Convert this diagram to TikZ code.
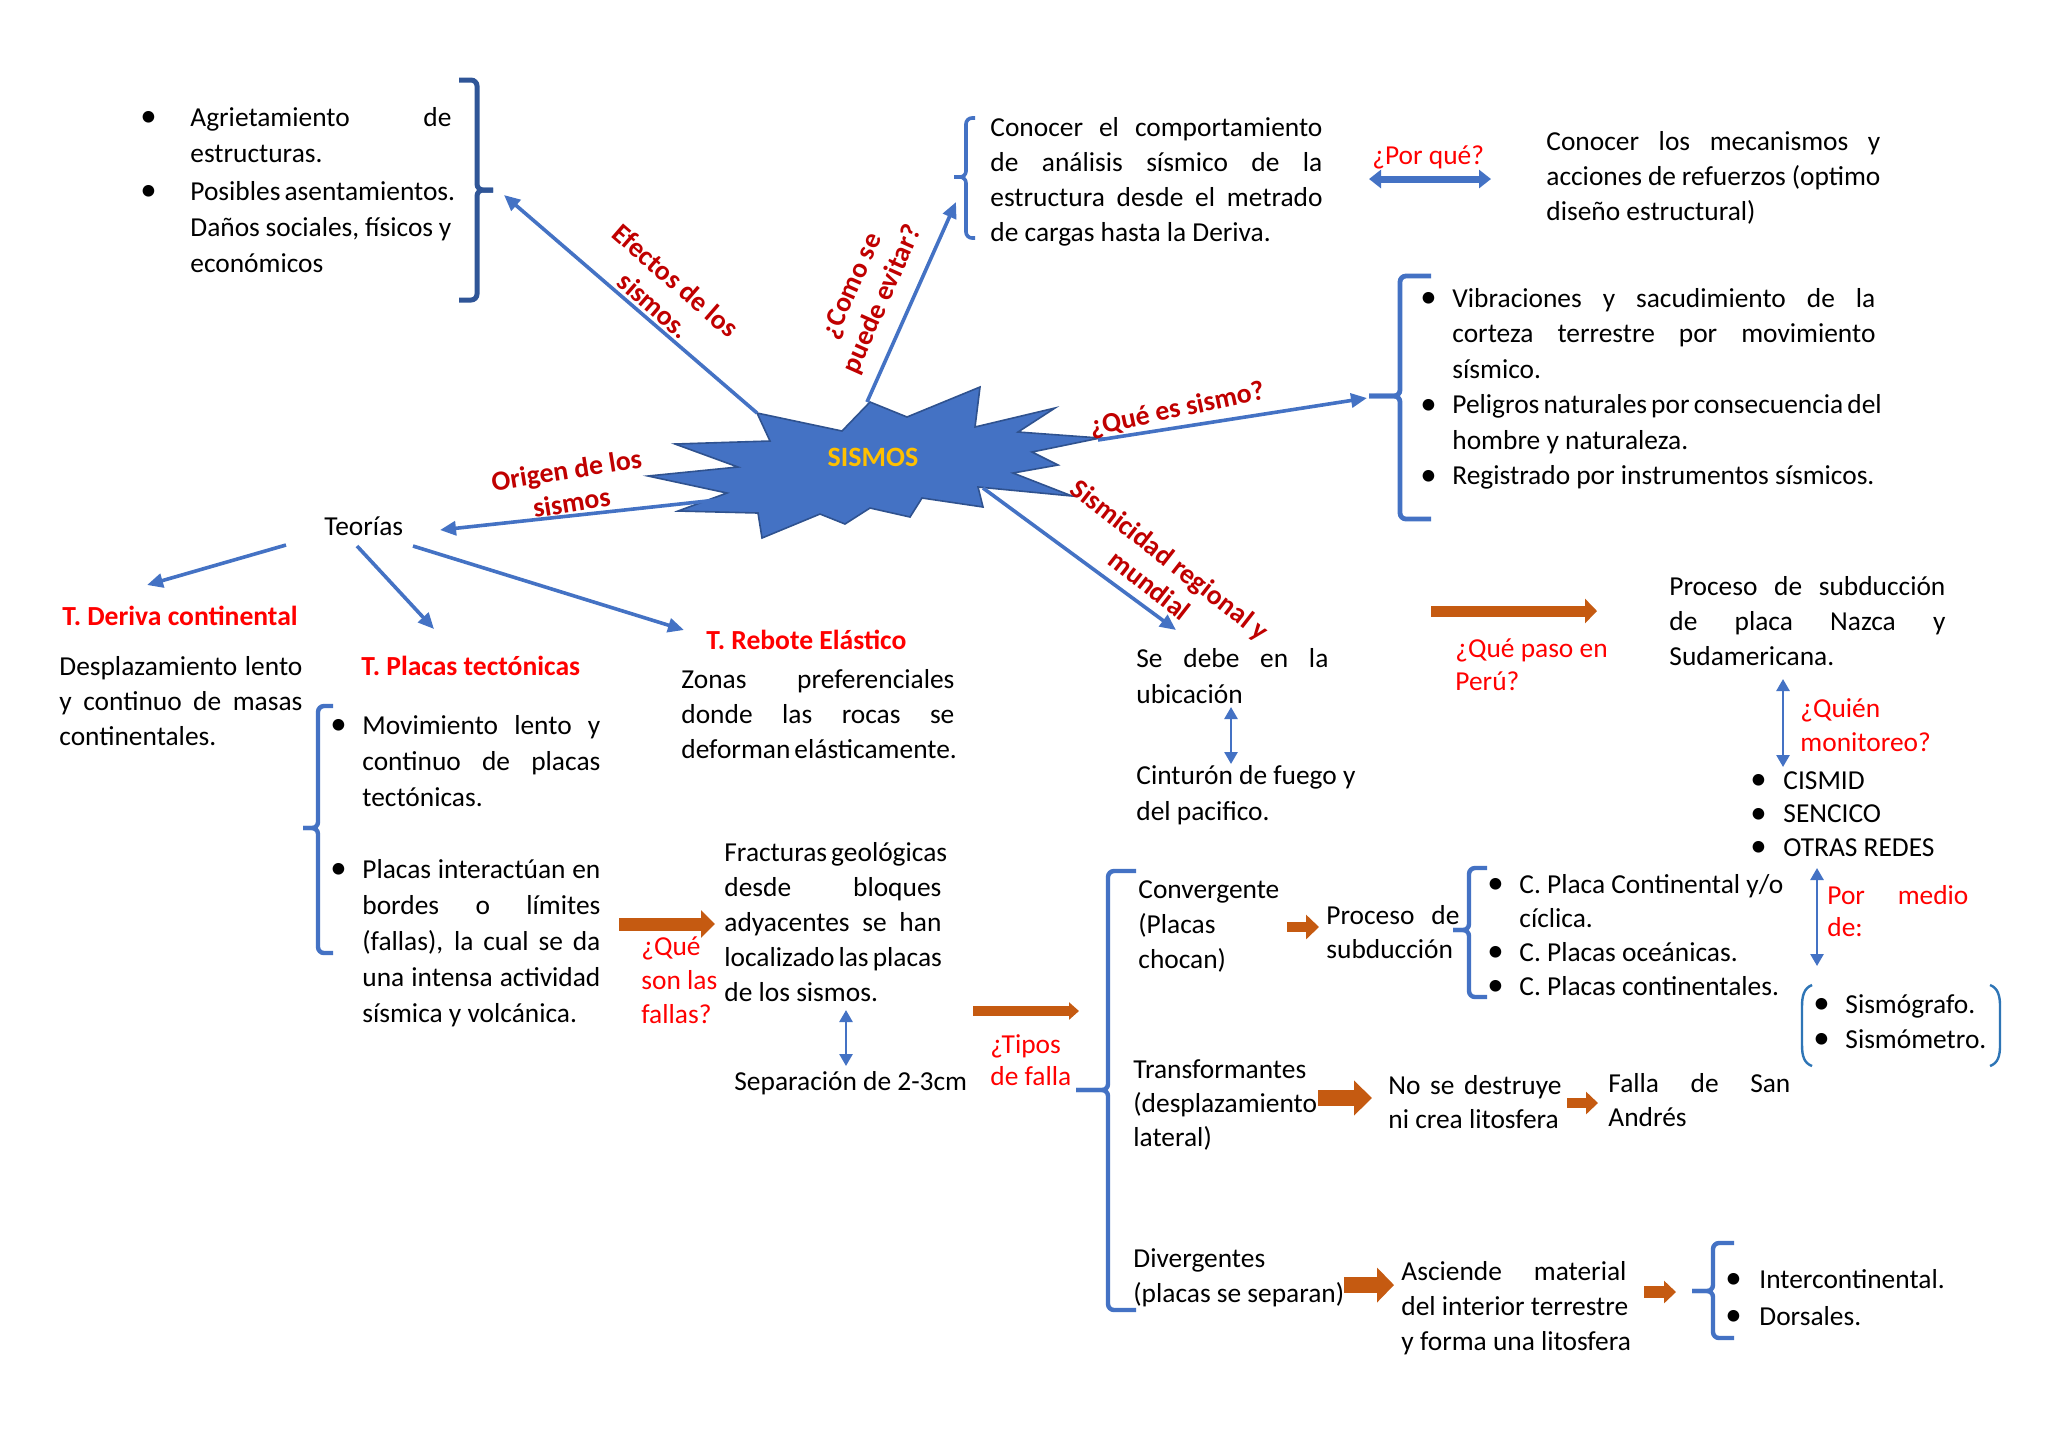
\documentclass[tikz,border=0pt]{standalone}
\usepackage{fontspec}
\setmainfont{Carlito}
\usetikzlibrary{arrows.meta}
\definecolor{bblue}{HTML}{4472C4}
\definecolor{dblue}{HTML}{2F5597}
\definecolor{sedge}{HTML}{2F528F}
\definecolor{pblue}{HTML}{2E75B6}
\definecolor{dred}{HTML}{C00000}
\definecolor{rred}{HTML}{FF0000}
\definecolor{orng}{HTML}{C55A11}
\definecolor{gold}{HTML}{FFC000}
% line helpers
\newcommand\blk[2]{\vtop{\baselineskip=#1\relax\lineskiplimit=-20pt\relax #2}}
\newcommand\jln[2]{\hbox to #1{#2}}
\newcommand\nln[1]{\hbox{#1}}
\newcommand\bul{\hskip-1.5pt\raisebox{-0.3pt}{\scalebox{1.2}{\textbullet}}}
\newcommand\bjl[3]{\hbox{\hbox to #1{\bul\hss}\hbox to #2{#3}}}
\newcommand\bnl[2]{\hbox{\hbox to #1{\bul\hss}#2}}
\newcommand\cjl[3]{\hbox{\hskip #1\relax\hbox to #2{#3}}}
\newcommand\cnl[2]{\hbox{\hskip #1\relax #2}}
\begin{document}
\begin{tikzpicture}[x=0.5pt,y=-0.5pt,
  txt/.style={inner sep=0pt, anchor=base west, font=\fontsize{13.7pt}{17.5pt}\selectfont, text=black},
  redt/.style={txt, text=rred},
  redb/.style={txt, text=rred, font=\fontsize{13.8pt}{17.5pt}\selectfont\bfseries},
  lbl/.style={inner sep=0pt, align=center, text=dred, font=\fontsize{13.9pt}{16.5pt}\selectfont\bfseries},
  barr/.style={draw=bblue, line width=1.8pt, -{Triangle[length=8pt 0 0,width=7pt 0 0]}},
  dbarr/.style={draw=bblue, line width=1.3pt, {Triangle[length=6pt 0 0,width=6.5pt 0 0]}-{Triangle[length=6pt 0 0,width=6.5pt 0 0]}},
  oarr/.style n args={3}{draw=orng, line width=#1, -{Triangle[length=#2 0 0,width=#3 0 0]}},
  brk/.style={draw=bblue, line width=2.2pt, rounded corners=3pt},
]
\useasboundingbox (0,0) rectangle (2048,1448);
\fill[white] (0,0) rectangle (2048,1448);

% ---------- star ----------
\fill[bblue, draw=sedge, line width=0.8pt]
 (757,413) -- (842,431) -- (870,402) -- (907,417) -- (980,387) -- (975,427) -- (1055,408)
 -- (1018,432) -- (1100,438) -- (1032,452) -- (1058,465) -- (1013,473) -- (1072,496)
 -- (978,487) -- (983,507) -- (922,498) -- (910,517) -- (870,508) -- (845,524) -- (820,514)
 -- (762,538) -- (758,513) -- (678,511) -- (727,493) -- (648,476) -- (738,467) -- (675,444)
 -- (770,441) -- cycle;
\node[inner sep=0pt, text=gold, font=\fontsize{14pt}{16pt}\selectfont\bfseries] (sismos) at (873,457) {SISMOS};

\coordinate (sUL) at (757,413);
\coordinate (sT) at (867,402);
\coordinate (sR) at (1098,440);
\coordinate (sL) at (735,498);
\coordinate (sBR) at (983,488);

% ---------- top-left effects ----------
\node[txt] (efectos) at (143,126) {\blk{18pt}{%
 \bjl{23.5pt}{130.5pt}{Agrietamiento\hfill de}
 \cnl{23.5pt}{estructuras.}
 \vskip1pt
 \bjl{23.5pt}{130.5pt}{Posibles asentamientos.}
 \cjl{23.5pt}{130.5pt}{Daños sociales, físicos y}
 \cnl{23.5pt}{económicos}}};
\draw[dblue, line width=2.5pt, rounded corners=3pt] (459,80) -- (477,80) -- (477,190) -- (493,190);
\draw[dblue, line width=2.5pt, rounded corners=3pt] (493,190) -- (477,190) -- (477,300) -- (459,300);
\coordinate (efTip) at (504,195);
\draw[barr] (sUL) -- (efTip);
\node[lbl, rotate=-41] (lEfectos) at (665,293) {Efectos de los\\sismos.};

% ---------- como se puede evitar ----------
\draw[brk, line width=1.8pt] (975,118) -- (966,118) -- (966,177) -- (954,177);
\draw[brk, line width=1.8pt] (954,177) -- (966,177) -- (966,238) -- (975,238);
\coordinate (coTip) at (956,202);
\draw[barr] (sT) -- (coTip);
\node[lbl, rotate=66] (lComo) at (868,293) {¿Como se\\puede evitar?};
\node[txt] (conocer) at (990,136) {\blk{17.5pt}{%
 \jln{166pt}{Conocer el comportamiento}
 \jln{166pt}{de análisis sísmico de la}
 \jln{166pt}{estructura desde el metrado}
 \nln{de cargas hasta la Deriva.}}};
\node[redt] (porque) at (1372,164) {¿Por qué?};
\coordinate (pq1) at (1369,179);
\coordinate (pq2) at (1491,179);
\draw[draw=bblue, line width=3.5pt, {Triangle[length=6pt 0 0,width=9pt 0 0]}-{Triangle[length=6pt 0 0,width=9pt 0 0]}] (pq1) -- (pq2);
\node[txt] (mecanismos) at (1546,150) {\blk{17.5pt}{%
 \jln{167pt}{Conocer los mecanismos y}
 \jln{167pt}{acciones de refuerzos (optimo}
 \nln{diseño estructural)}}};

% ---------- que es sismo ----------
\coordinate (qsTip) at (1367,398);
\draw[barr] (sR) -- (qsTip);
\node[lbl, rotate=12] (lQue) at (1177,410) {¿Qué es sismo?};
\draw[brk, line width=2.4pt] (1431,276) -- (1400,276) -- (1400,396) -- (1369,396);
\draw[brk, line width=2.4pt] (1369,396) -- (1400,396) -- (1400,519) -- (1431,519);
\node[txt] (definicion) at (1423,307) {\blk{17.75pt}{%
 \bjl{14.5pt}{211.5pt}{Vibraciones y sacudimiento de la}
 \cjl{14.5pt}{211.5pt}{corteza terrestre por movimiento}
 \cnl{14.5pt}{sísmico.}
 \bjl{14.5pt}{211.5pt}{Peligros naturales por consecuencia del}
 \cnl{14.5pt}{hombre y naturaleza.}
 \bnl{14.5pt}{Registrado por instrumentos sísmicos.}}};

% ---------- origen / teorias ----------
\coordinate (teTip) at (440,530);
\draw[barr] (sL) -- (teTip);
\node[lbl, rotate=9] (lOrigen) at (569,486) {Origen de los\\sismos};
\node[txt] (teorias) at (324,535) {Teorías};
\coordinate (t1) at (286,545);
\coordinate (t2) at (357,546);
\coordinate (t3) at (413,546);
\coordinate (d1) at (147,585);
\coordinate (p1) at (434,629);
\coordinate (r1) at (684,630);
\draw[barr] (t1) -- (d1);
\draw[barr] (t2) -- (p1);
\draw[barr] (t3) -- (r1);
\node[redb] (deriva) at (62,625) {T. Deriva continental};
\node[txt] (derivatx) at (59,675) {\blk{17.5pt}{%
 \jln{121.5pt}{Desplazamiento lento}
 \jln{121.5pt}{y continuo de masas}
 \nln{continentales.}}};
\node[redb] (placas) at (361,675) {T. Placas tectónicas};
\draw[brk] (333,706) -- (318,706) -- (318,828) -- (303,828);
\draw[brk] (303,828) -- (318,828) -- (318,953) -- (333,953);
\node[txt] (placastx) at (333,734) {\blk{18pt}{%
 \bjl{14.5pt}{119pt}{Movimiento lento y}
 \cjl{14.5pt}{119pt}{continuo de placas}
 \cnl{14.5pt}{tectónicas.}
 \vskip18pt
 \bjl{14.5pt}{119pt}{Placas interactúan en}
 \cjl{14.5pt}{119pt}{bordes o límites}
 \cjl{14.5pt}{119pt}{(fallas), la cual se da}
 \cjl{14.5pt}{119pt}{una intensa actividad}
 \cnl{14.5pt}{sísmica y volcánica.}}};
\node[redb] (rebote) at (706,649) {T. Rebote Elástico};
\node[txt] (rebotetx) at (681,688) {\blk{17.5pt}{%
 \jln{136.5pt}{Zonas preferenciales}
 \jln{136.5pt}{donde las rocas se}
 \jln{136.5pt}{deforman elásticamente.}}};

% ---------- fallas ----------
\coordinate (o2a) at (619,924);
\coordinate (o2b) at (715,924);
\draw[oarr={6.5pt}{7pt}{13.5pt}] (o2a) -- (o2b);
\node[redt] (quefallas) at (641,955) {\blk{17pt}{\nln{¿Qué}\nln{son las}\nln{fallas?}}};
\node[txt] (fracturas) at (724,861) {\blk{17.5pt}{%
 \jln{108.5pt}{Fracturas geológicas}
 \jln{108.5pt}{desde bloques}
 \jln{108.5pt}{adyacentes se han}
 \jln{108.5pt}{localizado las placas}
 \nln{de los sismos.}}};
\coordinate (v2a) at (846,1010);
\coordinate (v2b) at (846,1066);
\draw[dbarr] (v2a) -- (v2b);
\node[txt] (separacion) at (734,1090) {Separación de 2-3cm};
\coordinate (o3a) at (973,1011);
\coordinate (o3b) at (1079,1011);
\draw[oarr={5pt}{5pt}{8.5pt}] (o3a) -- (o3b);
\node[redt] (tipos) at (990,1053) {\blk{16pt}{\nln{¿Tipos}\nln{de falla}}};
\draw[brk] (1136,871) -- (1108,871) -- (1108,1090) -- (1076,1090);
\draw[brk] (1076,1090) -- (1108,1090) -- (1108,1310) -- (1136,1310);
\node[txt] (converg) at (1138,898) {\blk{17.5pt}{\nln{Convergente}\nln{(Placas}\nln{chocan)}}};
\node[txt] (transf) at (1133,1078) {\blk{17pt}{\nln{Transformantes}\nln{(desplazamiento}\nln{lateral)}}};
\node[txt] (diverg) at (1133,1267) {\blk{17.5pt}{\nln{Divergentes}\nln{(placas se separan)}}};

% convergente branch
\coordinate (o4a) at (1287,927);
\coordinate (o4b) at (1319,927);
\draw[oarr={5pt}{6.5pt}{12pt}] (o4a) -- (o4b);
\node[txt] (proceso) at (1326,924) {\blk{17pt}{\jln{66.5pt}{Proceso de}\nln{subducción}}};
\draw[brk] (1487,868) -- (1469,868) -- (1469,930) -- (1453,930);
\draw[brk] (1453,930) -- (1469,930) -- (1469,997) -- (1487,997);
\node[txt] (choques) at (1490,893) {\blk{17pt}{%
 \bnl{14.5pt}{C. Placa Continental y/o}
 \cnl{14.5pt}{cíclica.}
 \bnl{14.5pt}{C. Placas oceánicas.}
 \bnl{14.5pt}{C. Placas continentales.}}};

% transformantes branch
\coordinate (o5a) at (1318,1098);
\coordinate (o5b) at (1372,1098);
\draw[oarr={8pt}{9pt}{17pt}] (o5a) -- (o5b);
\node[txt] (nodest) at (1388,1094) {\blk{17pt}{\jln{86.5pt}{No se destruye}\nln{ni crea litosfera}}};
\coordinate (o6a) at (1567,1103);
\coordinate (o6b) at (1598,1103);
\draw[oarr={5pt}{6pt}{11pt}] (o6a) -- (o6b);
\node[txt] (sanandres) at (1608,1092) {\blk{17pt}{\jln{91pt}{Falla de San}\nln{Andrés}}};

% divergentes branch
\coordinate (o7a) at (1344,1285);
\coordinate (o7b) at (1394,1285);
\draw[oarr={8pt}{8.5pt}{17pt}] (o7a) -- (o7b);
\node[txt] (asciende) at (1401,1280) {\blk{17.5pt}{%
 \jln{112.5pt}{Asciende material}
 \nln{del interior terrestre}
 \nln{y forma una litosfera}}};
\coordinate (o8a) at (1644,1292);
\coordinate (o8b) at (1676,1292);
\draw[oarr={6pt}{6pt}{11pt}] (o8a) -- (o8b);
\draw[brk] (1734,1243) -- (1713,1243) -- (1713,1291) -- (1692,1291);
\draw[brk] (1692,1291) -- (1713,1291) -- (1713,1338) -- (1734,1338);
\node[txt] (dorsales) at (1728,1288) {\blk{18.5pt}{%
 \bnl{15.5pt}{Intercontinental.}
 \bnl{15.5pt}{Dorsales.}}};

% ---------- sismicidad ----------
\coordinate (siTip) at (1176,630);
\draw[barr] (sBR) -- (siTip);
\node[lbl, rotate=-38] (lSismicidad) at (1160,572) {Sismicidad regional y\\mundial};
\node[txt] (sedebe) at (1136,667) {\blk{18pt}{\jln{96pt}{Se debe en la}\nln{ubicación}}};
\coordinate (v1a) at (1231,707);
\coordinate (v1b) at (1231,764);
\draw[dbarr] (v1a) -- (v1b);
\node[txt] (cinturon) at (1136,784) {\blk{18pt}{\nln{Cinturón de fuego y}\nln{del pacifico.}}};

% ---------- peru ----------
\coordinate (o1a) at (1431,611);
\coordinate (o1b) at (1597,611);
\draw[oarr={5.5pt}{6pt}{12pt}] (o1a) -- (o1b);
\node[redt] (peru) at (1455,657) {\blk{16.5pt}{\nln{¿Qué paso en}\nln{Perú?}}};
\node[txt] (nazca) at (1669,595) {\blk{17.5pt}{%
 \jln{138pt}{Proceso de subducción}
 \jln{138pt}{de placa Nazca y}
 \nln{Sudamericana.}}};
\coordinate (v3a) at (1783,679);
\coordinate (v3b) at (1783,767);
\draw[dbarr] (v3a) -- (v3b);
\node[redt] (quien) at (1800,717) {\blk{17pt}{\nln{¿Quién}\nln{monitoreo?}}};
\node[txt] (redes) at (1753,789) {\blk{16.75pt}{%
 \bnl{15pt}{CISMID}
 \bnl{15pt}{SENCICO}
 \bnl{15pt}{OTRAS REDES}}};
\coordinate (v4a) at (1817,868);
\coordinate (v4b) at (1817,966);
\draw[dbarr] (v4a) -- (v4b);
\node[redt] (pormedio) at (1827,904) {\blk{16pt}{\jln{70.5pt}{Por medio}\nln{de:}}};
\draw[pblue, line width=1.2pt] (1812,985) .. controls (1804,988) and (1802,996) .. (1802,1006) -- (1802,1045) .. controls (1802,1056) and (1804,1063) .. (1812,1066);
\draw[pblue, line width=1.2pt] (1990,985) .. controls (1998,988) and (2000,996) .. (2000,1006) -- (2000,1045) .. controls (2000,1056) and (1998,1063) .. (1990,1066);
\node[txt] (instrumentos) at (1816,1013) {\blk{17.5pt}{%
 \bnl{14.5pt}{Sismógrafo.}
 \bnl{14.5pt}{Sismómetro.}}};
\end{tikzpicture}
\end{document}
